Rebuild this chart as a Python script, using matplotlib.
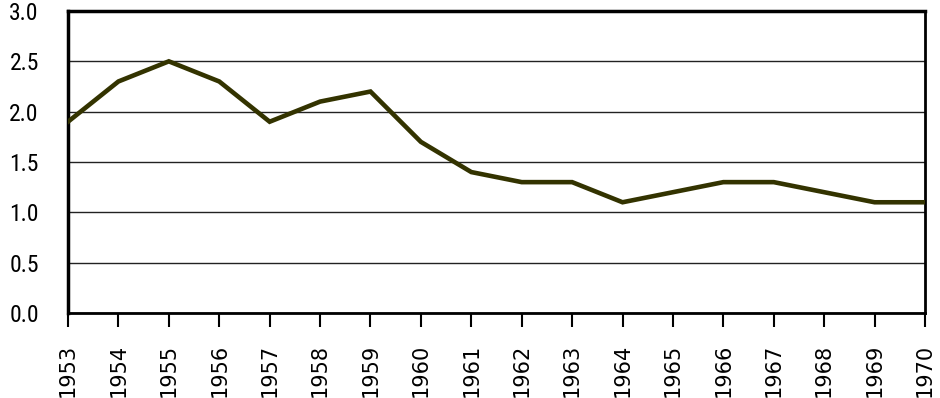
import matplotlib
matplotlib.use("Agg")
import matplotlib.pyplot as plt
from matplotlib import font_manager

years = [1953, 1954, 1955, 1956, 1957, 1958, 1959, 1960, 1961,
         1962, 1963, 1964, 1965, 1966, 1967, 1968, 1969, 1970]
values = [1.9, 2.3, 2.5, 2.3, 1.9, 2.1, 2.2, 1.7, 1.4,
          1.3, 1.3, 1.1, 1.2, 1.3, 1.3, 1.2, 1.1, 1.1]
y_ticks = [0.0, 0.5, 1.0, 1.5, 2.0, 2.5, 3.0]

names = {f.name for f in font_manager.fontManager.ttflist}
narrow_family = None
for cand in ["Liberation Sans Narrow", "DejaVu Sans Condensed", "Roboto Condensed", "Open Sans Condensed"]:
    if cand in names:
        narrow_family = cand
        break

fig = plt.figure(figsize=(9.4, 3.98), dpi=100)
ax = fig.add_axes([68 / 940, 1 - 313 / 398, (925 - 68) / 940, (313 - 11) / 398])

ax.plot(years, values, color="#333300", linewidth=3.3, solid_joinstyle="miter", zorder=3)

ax.set_xlim(years[0], years[-1])
ax.set_ylim(0, 3.0)
ax.set_yticks(y_ticks)
ylabels = ax.set_yticklabels([f"{v:.1f}" for v in y_ticks])
for t in ylabels:
    if narrow_family:
        t.set_fontfamily(narrow_family)
        t.set_fontsize(17)
    else:
        t.set_fontfamily("DejaVu Sans")
        t.set_fontstretch("condensed")
        t.set_fontsize(15)
ax.set_xticks(years)
ax.set_xticklabels([str(y) for y in years], rotation=90, fontfamily="DejaVu Sans", fontsize=15)

ax.yaxis.grid(True, color="#222222", linewidth=1.0)
ax.set_axisbelow(True)
ax.tick_params(axis="y", length=0, pad=21)
ax.tick_params(axis="x", length=10, width=1.5, direction="out", pad=12)

for side in ["top", "left"]:
    ax.spines[side].set_linewidth(2.5)
for side in ["bottom", "right"]:
    ax.spines[side].set_linewidth(2.0)

fig.savefig("out.png", dpi=100)
